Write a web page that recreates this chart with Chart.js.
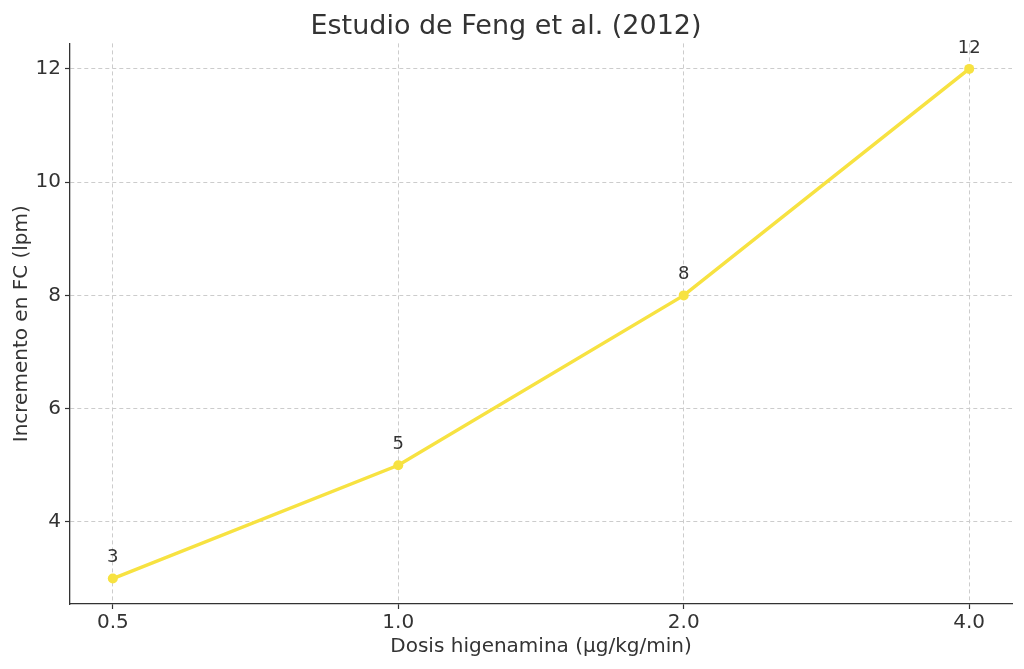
<!DOCTYPE html>
<html>
<head>
<meta charset="utf-8">
<script src="https://cdn.jsdelivr.net/npm/chart.js@4/dist/chart.umd.min.js"></script>
<style>
  html, body { margin: 0; padding: 0; background: #fff; }
  #wrap { width: 1024px; height: 669px; }
</style>
</head>
<body>
<div id="wrap"><canvas id="fc-chart" width="1024" height="669"></canvas></div>
<script>
const doseLabels = ['0.5', '1.0', '2.0', '4.0'];
const hrIncrease = [3, 5, 8, 12];
const yTicks = [4, 6, 8, 10, 12];

const lineColor = '#f7e241';
const textColor = '#333333';
const font = 'DejaVu Sans';

const pointLabels = {
    id: 'pointLabels',
    afterDatasetsDraw(chart) {
        const ctx = chart.ctx;
        const meta = chart.getDatasetMeta(0);
        ctx.save();
        ctx.font = `18px "${font}"`;
        ctx.fillStyle = textColor;
        ctx.textAlign = 'center';
        ctx.textBaseline = 'bottom';
        meta.data.forEach((pt, i) => {
            ctx.fillText(String(hrIncrease[i]), pt.x, pt.y - 12);
        });
        ctx.restore();
    }
};

const ctx = document.getElementById('fc-chart').getContext('2d');
new Chart(ctx, {
    type: 'line',
    data: {
        datasets: [{
            data: hrIncrease.map((v, i) => ({ x: i, y: v })),
            borderColor: lineColor,
            backgroundColor: lineColor,
            borderWidth: 3.5,
            pointRadius: 5,
            pointBorderWidth: 0,
            tension: 0
        }]
    },
    options: {
        responsive: false,
        animation: false,
        layout: { padding: { left: 0, right: 12, top: 0, bottom: 10 } },
        plugins: {
            legend: { display: false },
            tooltip: { enabled: false },
            title: {
                display: true,
                text: 'Estudio de Feng et al. (2012)',
                color: textColor,
                font: { family: font, size: 27, weight: 'normal' },
                padding: { top: 11, bottom: 0 }
            }
        },
        scales: {
            x: {
                type: 'linear',
                min: -0.15,
                max: 3.15,
                afterBuildTicks: (scale) => { scale.ticks = doseLabels.map((_, i) => ({ value: i })); },
                afterFit: (scale) => { scale.height = 55; },
                ticks: {
                    callback: (v) => doseLabels[v],
                    color: textColor,
                    font: { family: font, size: 20 },
                    maxRotation: 0,
                    padding: 2
                },
                grid: { color: '#cccccc', tickColor: '#333333', tickLength: 5, tickWidth: 1.2, tickBorderDash: [], lineWidth: 1 },
                border: { color: '#333333', width: 1.3, dash: [4, 3] },
                title: {
                    display: true,
                    text: 'Dosis higenamina (µg/kg/min)',
                    color: textColor,
                    font: { family: font, size: 20 },
                    padding: { top: 0, bottom: 0 }
                }
            },
            y: {
                min: 2.55,
                max: 12.45,
                afterBuildTicks: (scale) => { scale.ticks = yTicks.map(v => ({ value: v })); },
                afterFit: (scale) => { scale.width = 70; },
                ticks: {
                    color: textColor,
                    font: { family: font, size: 20 },
                    padding: 4
                },
                grid: { color: '#cccccc', tickColor: '#333333', tickLength: 5, tickWidth: 1.2, tickBorderDash: [], lineWidth: 1 },
                border: { color: '#333333', width: 1.3, dash: [4, 3] },
                title: {
                    display: true,
                    text: 'Incremento en FC (lpm)',
                    color: textColor,
                    font: { family: font, size: 20 },
                    padding: { top: 10, bottom: 0 }
                }
            }
        }
    },
    plugins: [pointLabels]
});
</script>
</body>
</html>
